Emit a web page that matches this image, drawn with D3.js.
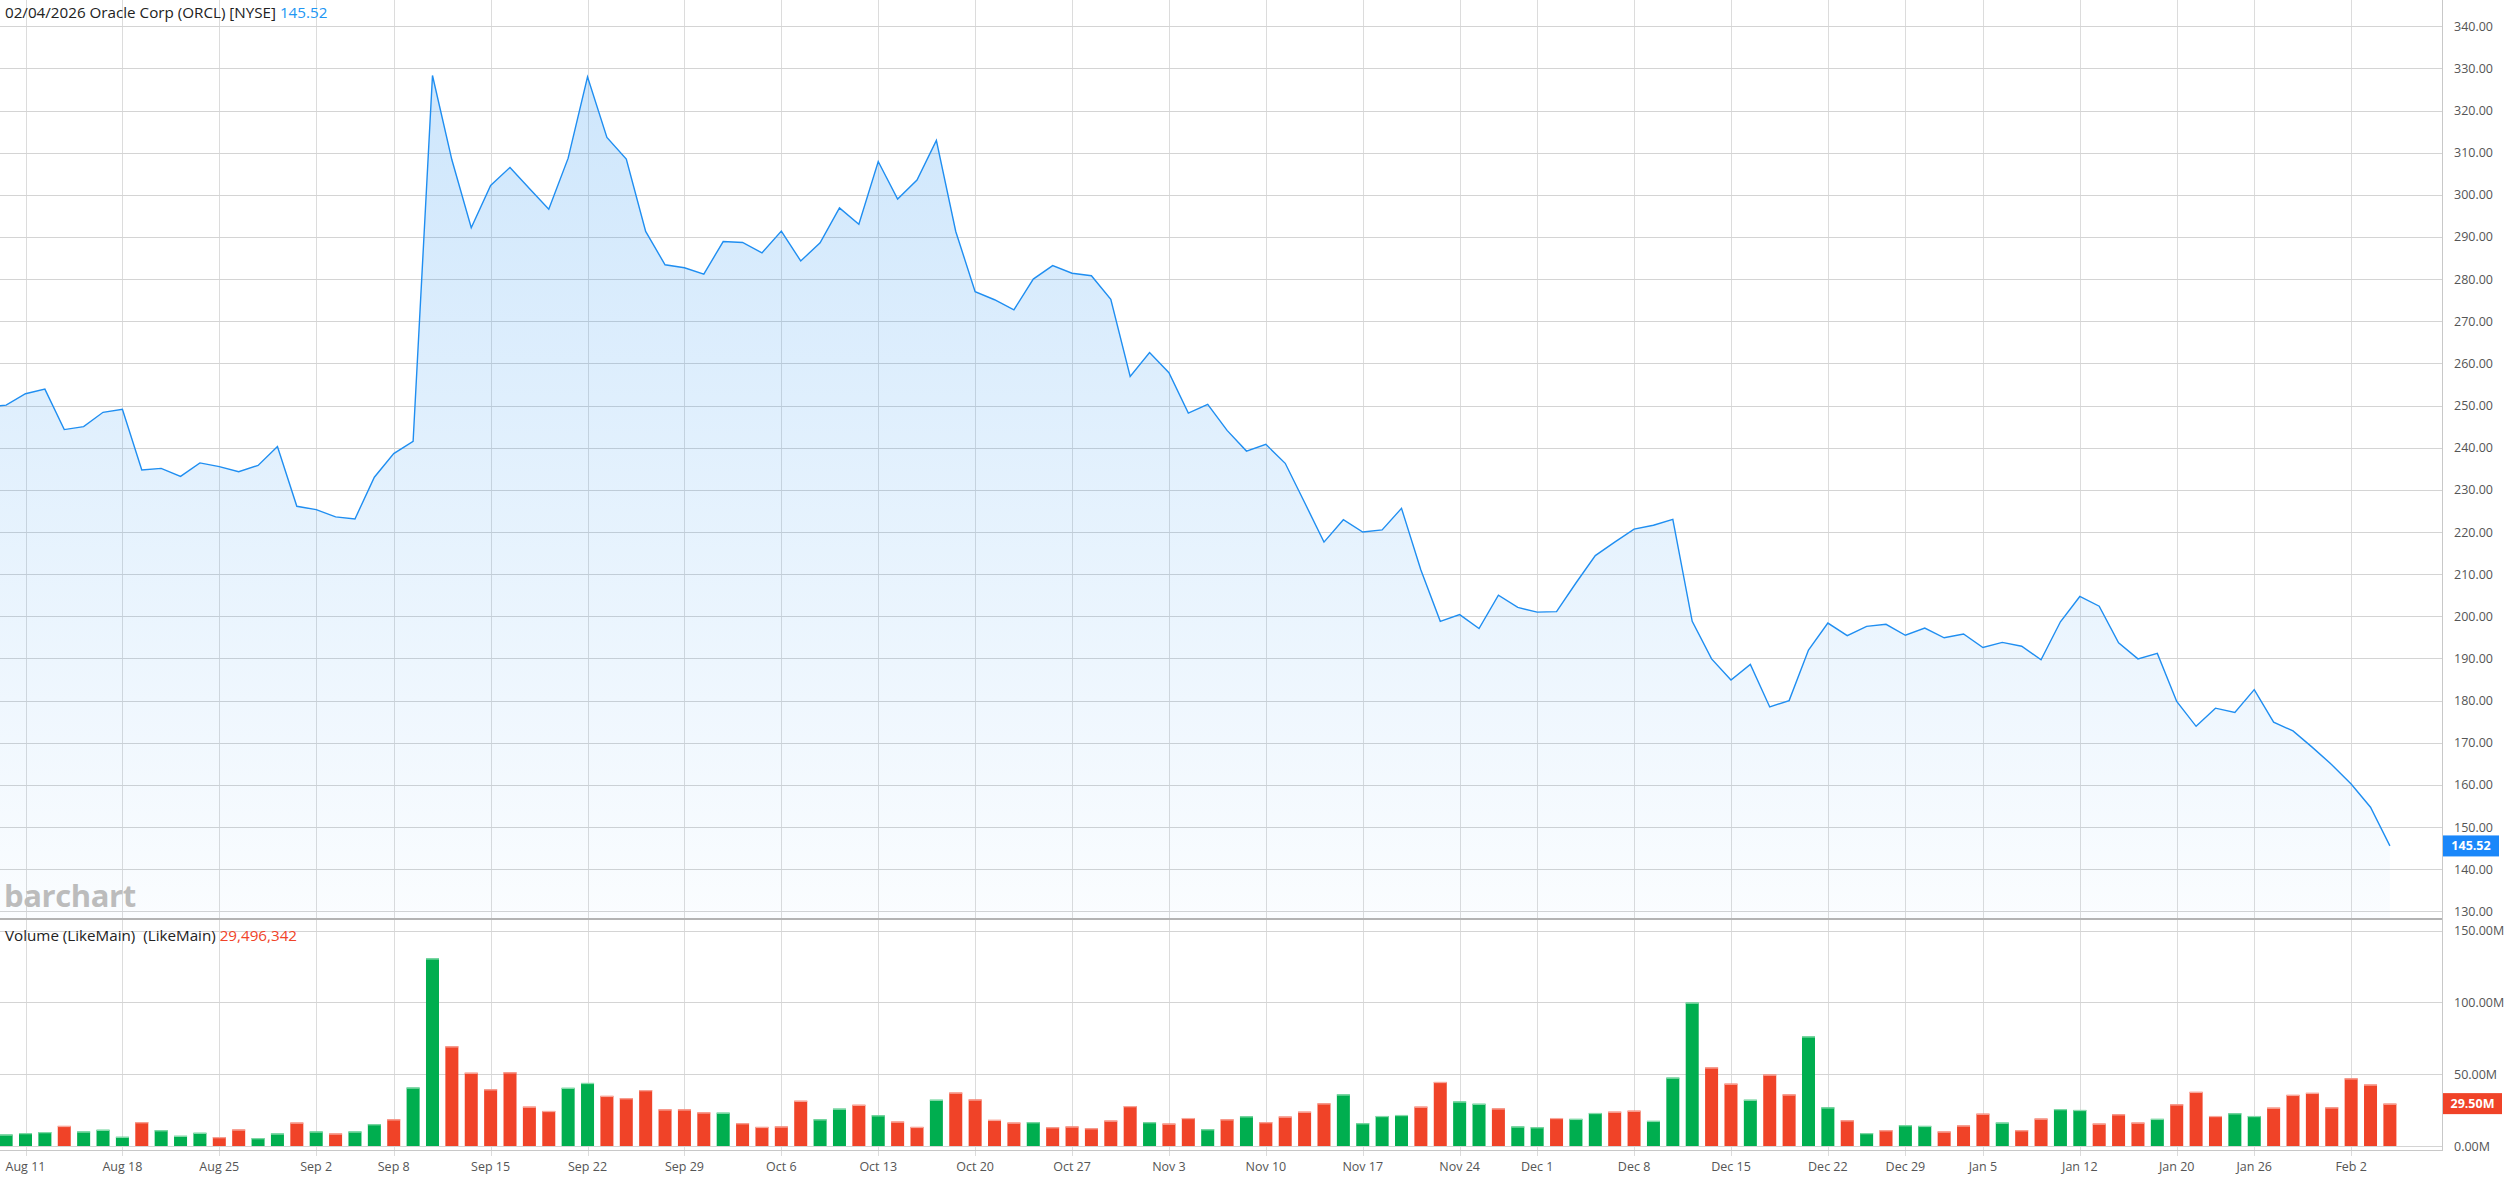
<!DOCTYPE html>
<html><head><meta charset="utf-8">
<script src="https://cdn.jsdelivr.net/npm/d3@7"></script>
<style>
html,body{margin:0;padding:0;background:#fff;overflow:hidden}
svg{display:block}
text{font-family:"Open Sans",sans-serif}
</style>
</head><body><div id="chart"></div>
<script>
// ---------------- DATA ----------------
const dates = [
 "2025-08-07","2025-08-08","2025-08-11","2025-08-12","2025-08-13","2025-08-14","2025-08-15","2025-08-18","2025-08-19","2025-08-20","2025-08-21","2025-08-22","2025-08-25","2025-08-26","2025-08-27","2025-08-28","2025-08-29",
 "2025-09-02","2025-09-03","2025-09-04","2025-09-05","2025-09-08","2025-09-09","2025-09-10","2025-09-11","2025-09-12","2025-09-15","2025-09-16","2025-09-17","2025-09-18","2025-09-19","2025-09-22","2025-09-23","2025-09-24","2025-09-25","2025-09-26","2025-09-29","2025-09-30",
 "2025-10-01","2025-10-02","2025-10-03","2025-10-06","2025-10-07","2025-10-08","2025-10-09","2025-10-10","2025-10-13","2025-10-14","2025-10-15","2025-10-16","2025-10-17","2025-10-20","2025-10-21","2025-10-22","2025-10-23","2025-10-24","2025-10-27","2025-10-28","2025-10-29","2025-10-30","2025-10-31",
 "2025-11-03","2025-11-04","2025-11-05","2025-11-06","2025-11-07","2025-11-10","2025-11-11","2025-11-12","2025-11-13","2025-11-14","2025-11-17","2025-11-18","2025-11-19","2025-11-20","2025-11-21","2025-11-24","2025-11-25","2025-11-26","2025-11-28",
 "2025-12-01","2025-12-02","2025-12-03","2025-12-04","2025-12-05","2025-12-08","2025-12-09","2025-12-10","2025-12-11","2025-12-12","2025-12-15","2025-12-16","2025-12-17","2025-12-18","2025-12-19","2025-12-22","2025-12-23","2025-12-24","2025-12-26","2025-12-29","2025-12-30","2025-12-31",
 "2026-01-02","2026-01-05","2026-01-06","2026-01-07","2026-01-08","2026-01-09","2026-01-12","2026-01-13","2026-01-14","2026-01-15","2026-01-16","2026-01-20","2026-01-21","2026-01-22","2026-01-23","2026-01-26","2026-01-27","2026-01-28","2026-01-29","2026-01-30",
 "2026-02-02","2026-02-03","2026-02-04"
];
const closes = [
 249.6,250.1,252.8,253.9,244.3,245.0,248.4,249.1,234.7,235.1,233.2,236.4,235.5,234.3,235.8,240.3,226.1,
 225.3,223.6,223.1,233.0,238.6,241.5,328.3,308.3,292.2,302.2,306.5,301.5,296.6,308.7,328.0,313.6,308.5,291.3,283.4,282.7,281.2,
 288.9,288.7,286.2,291.4,284.3,288.6,296.9,293.0,307.9,299.0,303.5,312.9,291.3,277.0,275.1,272.7,280.0,283.2,281.4,280.8,275.2,256.9,262.6,
 257.8,248.2,250.3,244.1,239.2,240.8,236.3,227.0,217.6,222.9,220.0,220.5,225.6,211.0,198.8,200.4,197.1,205.0,202.1,
 201.0,201.1,207.9,214.4,217.6,220.7,221.6,223.0,198.8,189.9,184.9,188.6,178.5,180.0,192.0,198.4,195.4,197.6,198.1,195.5,197.2,194.9,
 195.8,192.6,193.8,192.9,189.7,198.7,204.7,202.4,193.7,189.9,191.2,179.8,173.9,178.2,177.2,182.6,174.9,172.8,168.9,164.8,
 160.2,154.7,145.52
];
// volume in millions (first day off-screen, unknown)
const volumes = [
 null,8.0,9.0,9.7,14.0,10.1,11.3,6.4,16.6,11.0,7.1,9.2,6.2,11.5,5.5,8.7,16.3,
 10.1,8.7,10.1,15.2,18.6,40.7,130.6,69.4,51.0,39.5,51.3,27.4,24.4,40.5,43.9,34.9,33.3,38.9,25.5,25.5,23.4,
 23.2,15.9,13.3,13.6,31.5,18.6,26.0,28.7,21.4,17.0,13.3,32.2,37.2,32.4,18.2,16.3,16.6,13.1,13.6,12.4,17.7,27.8,16.6,
 15.6,19.5,11.7,18.6,20.7,16.6,20.5,23.9,29.7,35.9,15.9,20.9,21.6,27.4,44.6,31.0,29.4,26.2,13.6,
 13.1,19.5,18.9,23.0,23.9,24.6,17.5,47.6,99.8,54.7,43.4,32.2,49.7,35.9,76.3,26.9,17.9,9.0,11.0,14.5,14.0,10.1,
 14.3,22.5,16.3,11.0,19.1,25.7,25.1,15.6,22.1,16.3,18.9,29.0,37.7,20.9,22.8,20.9,26.7,35.6,37.0,26.9,
 47.1,42.8,29.496342
];
const volumeDirection = [
 "-","u","u","u","d","u","u","u","d","u","u","u","d","d","u","u","d",
 "u","d","u","u","d","u","u","d","d","d","d","d","d","u","u","d","d","d","d","d","d",
 "u","d","d","d","d","u","u","d","u","d","d","u","d","d","d","d","u","d","d","d","d","d","u",
 "d","d","u","d","u","d","d","d","d","u","u","u","u","d","d","u","u","d","u",
 "u","d","u","u","d","d","u","u","u","d","d","u","d","d","u","u","d","u","d","u","u","d",
 "d","d","u","d","d","u","u","d","d","d","u","d","d","d","u","u","d","d","d","d",
 "d","d","d"
];
const priceTicks = [340,330,320,310,300,290,280,270,260,250,240,230,220,210,200,190,180,170,160,150,140,130];
const volumeTicks = [150,100,50,0];
const xTickDates = ["2025-08-11","2025-08-18","2025-08-25","2025-09-02","2025-09-08","2025-09-15","2025-09-22","2025-09-29","2025-10-06","2025-10-13","2025-10-20","2025-10-27","2025-11-03","2025-11-10","2025-11-17","2025-11-24","2025-12-01","2025-12-08","2025-12-15","2025-12-22","2025-12-29","2026-01-05","2026-01-12","2026-01-20","2026-01-26","2026-02-02"];
const xTickLabels = ["Aug 11","Aug 18","Aug 25","Sep 2","Sep 8","Sep 15","Sep 22","Sep 29","Oct 6","Oct 13","Oct 20","Oct 27","Nov 3","Nov 10","Nov 17","Nov 24","Dec 1","Dec 8","Dec 15","Dec 22","Dec 29","Jan 5","Jan 12","Jan 20","Jan 26","Feb 2"];
const titleText = "02/04/2026 Oracle Corp (ORCL) [NYSE]";
const lastPriceText = "145.52";
const volumeTitleText = "Volume (LikeMain)  (LikeMain)";
const lastVolumeText = "29,496,342";
const lastVolumeAxisText = "29.50M";

// ---------------- LAYOUT ----------------
const W = 2510, H = 1179;
const plotRight = 2442;
const priceTop = 26.2, priceBottom = 911.35, panelSep = 919;
const volTop = 930.5, volBottom = 1146, frameBottom = 1150;
const C = {
  grid: "#d4d4d4", vgrid: "#dcdcdc", axis: "#c8c8c8", sep: "#b3b3b3",
  line: "#1f8ef1", up: "#00ae4f", down: "#f04328", upTop: "#86dbab", downTop: "#f8a89c",
  label: "#555", badgeBlue: "#1a87fa"
};

const svg = d3.select("#chart").append("svg").attr("width", W).attr("height", H);
const idx = d3.range(dates.length);
const dateIndex = new Map(dates.map((d, i) => [d, i]));

const x = d3.scaleLinear().domain([0, dates.length - 1]).range([-13.26, 2389.9]);
const yP = d3.scaleLinear().domain([130, 340]).range([priceBottom, priceTop]);
const yV = d3.scaleLinear().domain([0, 150]).range([volBottom, volTop]);

const defs = svg.append("defs");
const grad = defs.append("linearGradient").attr("id", "areaGrad")
  .attr("gradientUnits", "userSpaceOnUse").attr("x1", 0).attr("x2", 0).attr("y1", priceTop).attr("y2", panelSep);
grad.append("stop").attr("offset", 0).attr("stop-color", C.line).attr("stop-opacity", 0.23);
grad.append("stop").attr("offset", 1).attr("stop-color", C.line).attr("stop-opacity", 0.02);
defs.append("clipPath").attr("id", "priceClip").append("rect")
  .attr("x", 0).attr("y", 0).attr("width", plotRight).attr("height", panelSep - 1);
defs.append("clipPath").attr("id", "volClip").append("rect")
  .attr("x", 0).attr("y", panelSep + 1).attr("width", plotRight).attr("height", frameBottom - panelSep - 1);
defs.append("clipPath").attr("id", "priceAxisClip").append("rect")
  .attr("x", plotRight).attr("y", 0).attr("width", W - plotRight).attr("height", panelSep - 2);

const crisp = v => Math.round(v) + 0.5;

// vertical grid lines
svg.append("g").selectAll("line").data(xTickDates).join("line")
  .attr("x1", d => crisp(x(dateIndex.get(d)))).attr("x2", d => crisp(x(dateIndex.get(d))))
  .attr("y1", 0).attr("y2", 1156)
  .attr("stroke", C.vgrid).attr("stroke-width", 1);

// horizontal price grid
svg.append("g").selectAll("line").data(priceTicks).join("line")
  .attr("x1", 0).attr("x2", plotRight)
  .attr("y1", d => crisp(yP(d))).attr("y2", d => crisp(yP(d)))
  .attr("stroke", C.grid).attr("stroke-width", 1);

// volume grid
svg.append("g").selectAll("line").data(volumeTicks).join("line")
  .attr("x1", 0).attr("x2", plotRight)
  .attr("y1", d => crisp(yV(d))).attr("y2", d => crisp(yV(d)))
  .attr("stroke", C.grid).attr("stroke-width", 1);

// price area + line
const gPrice = svg.append("g").attr("clip-path", "url(#priceClip)");
gPrice.append("path").datum(idx)
  .attr("d", d3.area().x(i => x(i)).y0(panelSep).y1(i => yP(closes[i])))
  .attr("fill", "url(#areaGrad)");
gPrice.append("path").datum(idx)
  .attr("d", d3.line().x(i => x(i)).y(i => yP(closes[i])))
  .attr("fill", "none").attr("stroke", C.line).attr("stroke-width", 1.4).attr("stroke-linejoin", "miter");

// volume bars
const barW = 13;
const gVol = svg.append("g").attr("clip-path", "url(#volClip)");
const volIdx = idx.filter(i => volumes[i] != null);
gVol.selectAll("rect.bar").data(volIdx).join("rect").attr("class", "bar")
  .attr("x", i => x(i) - barW / 2).attr("width", barW)
  .attr("y", i => yV(volumes[i])).attr("height", i => yV(0) - yV(volumes[i]))
  .attr("fill", i => volumeDirection[i] === "u" ? C.up : C.down);
gVol.selectAll("rect.top").data(volIdx).join("rect").attr("class", "top")
  .attr("x", i => x(i) - barW / 2).attr("width", barW)
  .attr("y", i => yV(volumes[i])).attr("height", 1.2)
  .attr("fill", i => volumeDirection[i] === "u" ? C.upTop : C.downTop);

// panel separator and frame
svg.append("line").attr("x1", 0).attr("x2", plotRight).attr("y1", panelSep).attr("y2", panelSep)
  .attr("stroke", C.sep).attr("stroke-width", 2);
svg.append("line").attr("x1", 0).attr("x2", plotRight).attr("y1", frameBottom + 0.5).attr("y2", frameBottom + 0.5)
  .attr("stroke", C.axis).attr("stroke-width", 1);
svg.append("line").attr("x1", plotRight + 0.5).attr("x2", plotRight + 0.5).attr("y1", 0).attr("y2", frameBottom + 1)
  .attr("stroke", C.axis).attr("stroke-width", 1);

// price axis labels
svg.append("g").attr("clip-path", "url(#priceAxisClip)").selectAll("text").data(priceTicks).join("text")
  .attr("x", 2454).attr("y", d => yP(d)).attr("dy", "0.36em")
  .attr("font-size", 12.5).attr("fill", C.label)
  .text(d => d3.format(".2f")(d));

// volume axis labels
svg.append("g").selectAll("text").data(volumeTicks).join("text")
  .attr("x", 2454).attr("y", d => yV(d)).attr("dy", "0.36em")
  .attr("font-size", 12.5).attr("fill", C.label)
  .text(d => d3.format(".2f")(d) + "M");

// x axis labels
svg.append("g").selectAll("text").data(xTickDates).join("text")
  .attr("x", d => x(dateIndex.get(d))).attr("y", 1171)
  .attr("text-anchor", "middle").attr("font-size", 12.5).attr("fill", C.label)
  .text((d, i) => xTickLabels[i]);

// last price badge
const lastI = dates.length - 1;
const yLast = yP(closes[lastI]);
svg.append("rect").attr("x", plotRight + 1).attr("y", yLast - 10.5).attr("width", 56).attr("height", 21)
  .attr("fill", C.badgeBlue);
svg.append("text").attr("x", plotRight + 1 + 28).attr("y", yLast).attr("dy", "0.36em")
  .attr("text-anchor", "middle").attr("font-size", 12.5).attr("font-weight", 700).attr("fill", "#fff")
  .text(lastPriceText);

// last volume badge
const yLastV = yV(volumes[lastI]);
svg.append("rect").attr("x", plotRight + 1).attr("y", yLastV - 10.5).attr("width", 59).attr("height", 21)
  .attr("fill", C.down);
svg.append("text").attr("x", plotRight + 1 + 29.5).attr("y", yLastV).attr("dy", "0.36em")
  .attr("text-anchor", "middle").attr("font-size", 12.5).attr("font-weight", 700).attr("fill", "#fff")
  .text(lastVolumeAxisText);

// titles
const t1 = svg.append("text").attr("x", 5).attr("y", 17.5).attr("font-size", 15.2).attr("fill", "#222")
  .style("white-space", "pre");
t1.append("tspan").text(titleText + " ");
t1.append("tspan").attr("fill", "#2196f3").text(lastPriceText);

const t2 = svg.append("text").attr("x", 5).attr("y", 940.5).attr("font-size", 15.2).attr("fill", "#222")
  .style("white-space", "pre");
t2.append("tspan").text(volumeTitleText + " ");
t2.append("tspan").attr("fill", C.down).text(lastVolumeText);

// watermark
svg.append("text").attr("x", 4).attr("y", 907).attr("font-size", 31).attr("font-weight", 700)
  .attr("fill", "#bcbcbc").attr("letter-spacing", -0.4).text("barchart");
</script>
</body></html>
